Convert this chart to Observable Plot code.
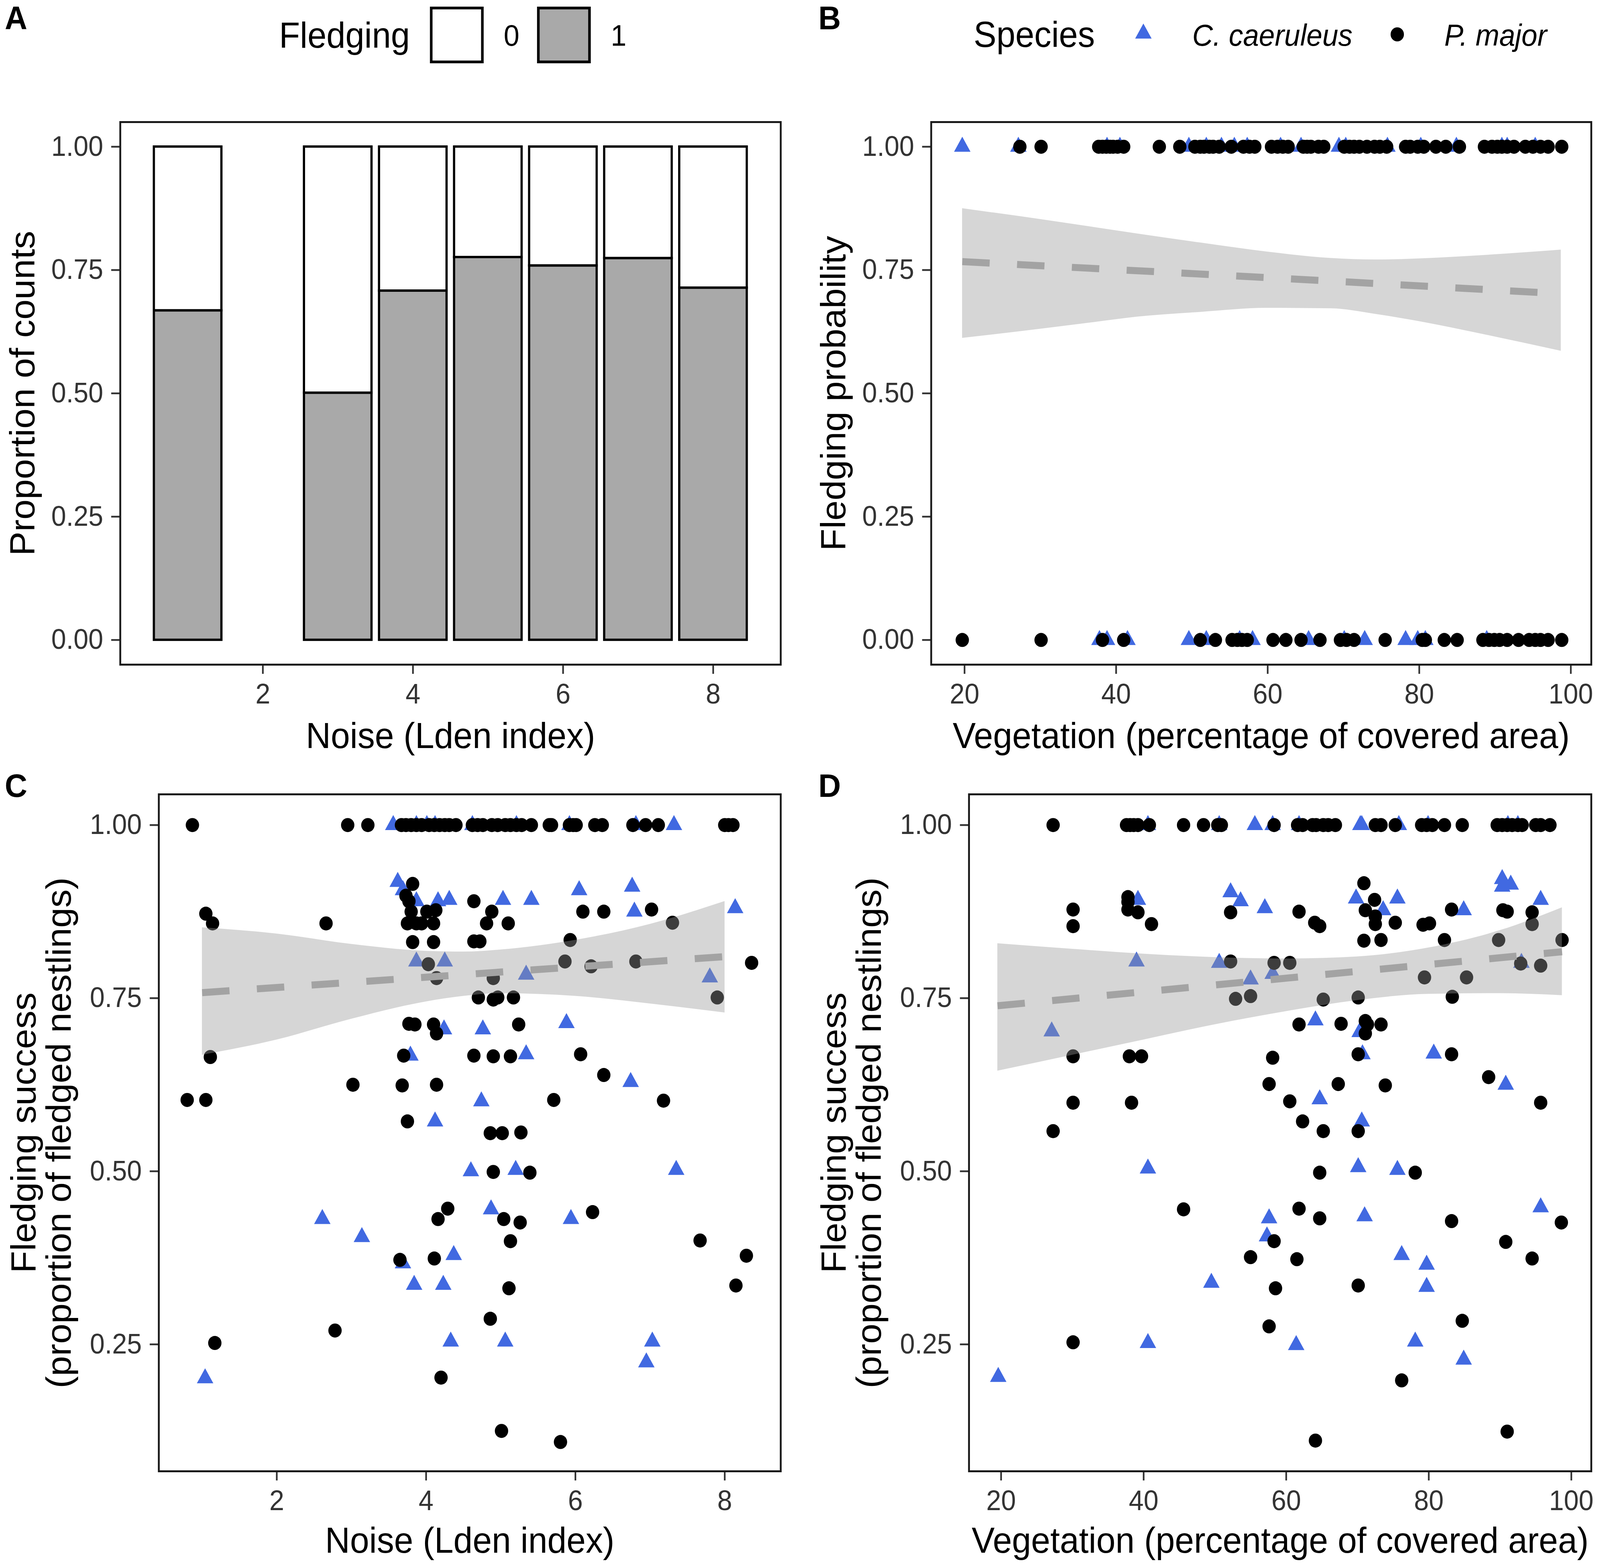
<!DOCTYPE html>
<html>
<head>
<meta charset="utf-8">
<script src="https://cdn.jsdelivr.net/npm/d3@7"></script>
<script src="https://cdn.jsdelivr.net/npm/@observablehq/plot@0.6"></script>
<style>
  html, body { margin: 0; padding: 0; background: #fff; overflow: hidden; }
  #root { position: relative; width: 4317px; height: 4009px; overflow: hidden; background: #fff;
          transform-origin: 0 0;
          font-family: "Liberation Sans", Arial, Helvetica, sans-serif; }
  .panel { position: absolute; }
  .panel svg { overflow: visible; }
  #overlay { position: absolute; left: 0; top: 0; pointer-events: none; }
</style>
</head>
<body>
<div id="root"></div>
<script>
// ---------------- DATA ----------------
// Panel A: proportion of fledging (1) per noise level
const noiseLevels = [1, 3, 4, 5, 6, 7, 8];
const propFledged = [0.668, 0.501, 0.708, 0.776, 0.759, 0.774, 0.714];
const fledgingLabels = ["0", "1"];
const speciesLabels = ["C. caeruleus", "P. major"];

// Panel B: fledging (0/1) vs vegetation
const vegFledgedMajor = [27.3,30.1,37.7,38.2,38.7,39.2,39.6,40.2,41.0,45.7,48.4,50.4,51.1,51.6,52.3,52.8,53.6,55.2,56.8,57.6,58.3,60.5,61.3,62.0,62.7,64.7,65.2,65.7,66.7,67.4,70.1,70.8,71.4,72.1,73.1,74.1,74.8,75.7,78.2,78.8,79.8,80.6,82.2,83.5,85.3,88.6,89.6,90.3,90.9,91.6,92.5,94.0,95.0,96.0,97.0,98.8];
const vegFledgedCaer = [19.7,27.1,38.8,40.5,49.6,51.9,53.9,55.6,57.3,61.7,64.4,69.4,70.3,75.8,80.2,84.9,90.9,91.6,95.3];
const vegFailedMajor = [19.7,30.1,38.2,41.0,51.1,53.1,55.3,56.0,56.6,57.3,60.7,62.4,64.4,66.9,69.6,70.4,71.4,75.5,80.4,80.8,83.3,85.0,88.4,89.2,89.9,90.6,91.6,93.1,94.5,95.3,96.0,97.0,98.8];
const vegFailedCaer = [37.8,38.8,41.5,49.6,51.9,56.3,58.0,65.4,70.1,72.8,78.2,79.8,80.8,88.9];
const bandBX  = [19.7, 31.3, 37.0, 42.7, 51.3, 59.9, 68.4, 74.1, 82.7, 88.4, 98.7];
const bandBHi = [0.875,0.850,0.837,0.824,0.805,0.787,0.774,0.771,0.775,0.780,0.791];
const bandBLo = [0.612,0.633,0.644,0.655,0.665,0.673,0.672,0.661,0.638,0.620,0.586];
const fitBX = [19.7, 58.3, 98.7];
const fitBY = [0.767, 0.736, 0.702];

// Panel C: fledging success vs noise (jittered noise)
const noiseTopMajor = [0.87,2.95,3.22,3.67,3.73,3.80,3.87,3.94,4.04,4.11,4.18,4.25,4.31,4.40,4.62,4.69,4.76,4.88,4.96,5.06,5.13,5.21,5.28,5.41,5.65,5.68,5.92,5.97,6.01,6.26,6.36,6.77,6.94,7.11,8.00,8.05,8.11];
const noiseTopCaer = [3.56,3.87,4.01,4.12,4.62,5.21,5.92,6.81,7.32];
const noiseMajor = [[0.80,0.603],[1.05,0.603],[1.05,0.872],[1.14,0.858],[1.11,0.665],[1.17,0.252],[2.66,0.858],[3.02,0.625],[2.78,0.270],[3.82,0.915],[3.73,0.898],[3.77,0.890],[3.80,0.875],[3.75,0.858],[3.87,0.858],[3.94,0.858],[4.10,0.858],[4.01,0.875],[4.13,0.877],[3.82,0.831],[4.10,0.831],[4.03,0.799],[4.14,0.779],[4.64,0.890],[4.64,0.832],[4.72,0.832],[4.81,0.858],[4.88,0.875],[5.10,0.858],[4.90,0.779],[4.70,0.751],[4.90,0.748],[4.96,0.751],[5.17,0.751],[5.24,0.712],[3.77,0.713],[3.85,0.712],[4.10,0.712],[4.14,0.699],[3.70,0.667],[4.64,0.667],[4.90,0.666],[5.13,0.666],[3.68,0.624],[4.14,0.625],[3.75,0.572],[4.86,0.555],[5.02,0.555],[5.27,0.556],[4.90,0.499],[5.39,0.498],[4.29,0.446],[4.16,0.431],[5.04,0.431],[5.26,0.426],[5.13,0.399],[3.65,0.372],[4.11,0.374],[5.11,0.331],[4.86,0.287],[4.20,0.202],[5.01,0.125],[5.80,0.109],[5.71,0.603],[5.93,0.834],[5.86,0.803],[6.10,0.875],[6.38,0.875],[6.21,0.796],[6.07,0.669],[6.38,0.639],[6.23,0.441],[6.81,0.803],[7.02,0.878],[7.30,0.859],[7.18,0.602],[7.67,0.400],[7.90,0.751],[8.36,0.801],[8.29,0.378],[8.15,0.335]];
const noiseCaer = [[3.62,0.918],[3.69,0.906],[3.87,0.890],[4.16,0.890],[4.31,0.892],[5.03,0.892],[5.41,0.892],[6.05,0.906],[6.76,0.911],[6.79,0.875],[8.14,0.880],[3.87,0.803],[4.25,0.803],[5.34,0.784],[7.80,0.780],[4.24,0.705],[4.76,0.705],[5.88,0.714],[3.79,0.667],[5.34,0.669],[6.74,0.629],[4.74,0.601],[4.12,0.572],[4.60,0.500],[5.20,0.502],[7.35,0.502],[4.87,0.445],[2.61,0.431],[5.94,0.431],[3.14,0.405],[4.37,0.379],[3.69,0.367],[3.84,0.336],[4.23,0.336],[4.33,0.254],[5.06,0.254],[7.03,0.254],[6.95,0.224],[1.04,0.201]];
const bandCX  = [1.0, 2, 3, 4, 4.5, 5, 6, 7, 8.0];
const bandCHi = [0.852,0.843,0.828,0.818,0.817,0.820,0.834,0.857,0.890];
const bandCLo = [0.668,0.690,0.720,0.745,0.753,0.757,0.753,0.742,0.729];
const fitCX = [1.0, 8.0];
const fitCY = [0.758, 0.810];

// Panel D: fledging success vs vegetation
const vegTopMajor = [27.3,37.6,38.1,38.6,39.2,40.8,45.6,48.4,50.4,50.9,58.3,61.6,62.3,63.7,64.2,65.2,65.9,66.9,72.5,73.3,75.3,79.0,79.7,80.5,82.2,84.7,89.6,90.3,91.0,91.7,92.5,93.1,95.0,95.7,97.0];
const vegTopCaer = [40.6,50.6,55.6,58.1,61.8,70.4,70.6,75.8,79.9,91.1,92.5];
const vegMajor = [[27.3,0.558],[30.1,0.878],[30.1,0.854],[30.1,0.666],[30.1,0.599],[30.1,0.253],[37.8,0.896],[37.8,0.889],[37.8,0.878],[39.2,0.874],[41.1,0.857],[38.0,0.666],[39.7,0.666],[38.3,0.599],[45.6,0.445],[52.2,0.803],[52.2,0.874],[52.9,0.749],[55.0,0.753],[55.0,0.376],[57.6,0.626],[58.1,0.664],[58.3,0.801],[58.3,0.399],[58.5,0.331],[57.6,0.276],[60.5,0.801],[60.5,0.601],[61.8,0.875],[61.8,0.712],[61.8,0.446],[61.5,0.373],[62.3,0.572],[64.0,0.859],[64.7,0.854],[65.2,0.748],[64.7,0.498],[64.7,0.432],[65.2,0.558],[64.1,0.111],[67.3,0.626],[67.7,0.713],[70.1,0.751],[70.1,0.669],[70.1,0.558],[70.1,0.335],[70.9,0.833],[70.9,0.916],[71.1,0.877],[71.1,0.717],[71.1,0.699],[71.4,0.712],[72.4,0.892],[72.5,0.868],[72.5,0.857],[73.3,0.834],[73.3,0.712],[73.9,0.624],[75.3,0.859],[76.2,0.198],[78.1,0.498],[79.4,0.780],[79.2,0.856],[80.1,0.858],[82.2,0.834],[83.2,0.878],[83.3,0.752],[83.2,0.669],[83.2,0.428],[84.7,0.284],[85.3,0.780],[88.4,0.636],[89.8,0.834],[90.4,0.877],[91.0,0.875],[90.8,0.398],[91.0,0.124],[92.9,0.800],[94.5,0.874],[94.5,0.857],[94.5,0.374],[95.7,0.797],[95.7,0.599],[98.7,0.834],[98.6,0.426]];
const vegCaer = [[27.1,0.702],[19.6,0.203],[39.2,0.892],[39.0,0.803],[40.6,0.504],[40.6,0.252],[49.5,0.339],[50.6,0.801],[52.2,0.903],[53.6,0.890],[57.0,0.880],[55.0,0.777],[58.1,0.785],[57.6,0.432],[57.3,0.406],[61.4,0.249],[64.1,0.718],[64.7,0.604],[69.8,0.894],[70.3,0.701],[70.7,0.669],[70.6,0.572],[70.1,0.506],[71.0,0.435],[73.6,0.877],[75.6,0.894],[75.6,0.502],[76.2,0.379],[78.1,0.254],[79.7,0.365],[79.7,0.333],[80.7,0.670],[84.9,0.877],[84.9,0.228],[90.3,0.922],[90.3,0.911],[91.5,0.914],[90.8,0.625],[93.0,0.801],[95.7,0.892],[95.7,0.448]];
const bandDX  = [19.5, 30, 40, 50, 60, 70, 80, 90, 98.7];
const bandDHi = [0.829,0.821,0.814,0.809,0.807,0.810,0.823,0.848,0.881];
const bandDLo = [0.645,0.668,0.690,0.712,0.731,0.747,0.756,0.757,0.754];
const fitDX = [19.5, 98.7];
const fitDY = [0.739, 0.817];

// Tick values
const ticksProp = [0, 0.25, 0.5, 0.75, 1];
const ticksSuccess = [0.25, 0.5, 0.75, 1];
const ticksNoise = [2, 4, 6, 8];
const ticksVeg = [20, 40, 60, 80, 100];

// ---------------- STYLE ----------------
const FONT = '"Liberation Sans", Arial, Helvetica, sans-serif';
const BLUE = "#4169e1";
const BAR_GREY = "#a9a9a9";
const TICK_FS = 72, TITLE_FS = 93;
const PAGE_W = 4317, PAGE_H = 4009;

const root = document.getElementById("root");

// fit the page to the actual viewport if it is smaller than the requested size
(function fit() {
  const vw = window.innerWidth || PAGE_W, vh = window.innerHeight || PAGE_H;
  const sx = Math.min(1, vw / PAGE_W), sy = Math.min(1, vh / PAGE_H);
  if (sx < 0.999 || sy < 0.999) root.style.transform = `scale(${sx}, ${sy})`;
})();

function zip(xs, ys) { return xs.map((x, i) => ({x, y: ys[i]})); }
function bandRows(xs, lo, hi) { return xs.map((x, i) => ({x, lo: lo[i], hi: hi[i]})); }
function pairs(arr) { return arr.map(([x, y]) => ({x, y})); }
function flat(xs, y) { return xs.map(x => ({x, y})); }

function axes(xTicks, yTicks, xLabel, yLabel, xTitleDy, yTitleDx) {
  return [
    Plot.axisX({ticks: xTicks, tickSize: 24, tickPadding: 24, fontSize: TICK_FS, color: "#333", strokeWidth: 4.5, label: null}),
    Plot.axisY({ticks: yTicks, tickSize: 24, tickPadding: 22, fontSize: TICK_FS, color: "#333", strokeWidth: 4.5, label: null, tickFormat: d3.format(".2f")}),
    Plot.frame({stroke: "#1a1a1a", strokeWidth: 5}),
    Plot.text([xLabel], {text: d => d, frameAnchor: "bottom", textAnchor: "middle", dy: xTitleDy, lineAnchor: "bottom", fontSize: TITLE_FS, fill: "#000"}),
    Plot.text([yLabel], {text: d => d, frameAnchor: "left", textAnchor: "middle", dx: yTitleDx, rotate: -90, lineAnchor: "bottom", lineHeight: 1.02, fontSize: TITLE_FS, fill: "#000"})
  ];
}

function place(svg, left, top) {
  const div = document.createElement("div");
  div.className = "panel";
  div.style.left = left + "px";
  div.style.top = top + "px";
  div.appendChild(svg);
  root.appendChild(div);
}

const baseStyle = {fontFamily: FONT, background: "transparent", overflow: "visible", color: "#000"};

// ---------------- PANEL A ----------------
const barRows = noiseLevels.map((n, i) => ({noise: n, p: propFledged[i]}));
const panelA = Plot.plot({
  width: 2160, height: 1990,
  marginLeft: 324, marginRight: 54, marginTop: 312, marginBottom: 289,
  style: baseStyle,
  x: {domain: [0.1, 8.9]},
  y: {domain: [-0.05, 1.05]},
  marks: [
    Plot.rect(barRows, {x1: d => d.noise - 0.45, x2: d => d.noise + 0.45, y1: 0, y2: "p", fill: BAR_GREY, stroke: "#000", strokeWidth: 6}),
    Plot.rect(barRows, {x1: d => d.noise - 0.45, x2: d => d.noise + 0.45, y1: "p", y2: 1, fill: "#fff", stroke: "#000", strokeWidth: 6}),
    ...axes(ticksNoise, ticksProp, "Noise (Lden index)", "Proportion of counts", 213, -232)
  ]
});
place(panelA, 0, 0);

// ---------------- SCATTER PANELS ----------------
function scatter({width, height, mL, mR, mT, mB, xDomain, yDomain, caer, major, band, fit, xTicks, yTicks, xLabel, yLabel, xTitleDy, yTitleDx}) {
  return Plot.plot({
    width, height, marginLeft: mL, marginRight: mR, marginTop: mT, marginBottom: mB,
    style: baseStyle,
    x: {domain: xDomain},
    y: {domain: yDomain},
    marks: [
      Plot.dot(caer, {x: "x", y: "y", symbol: "triangle", r: 16.5, fill: BLUE, stroke: "none"}),
      Plot.dot(major, {x: "x", y: "y", symbol: "circle", r: 18, fill: "#000", stroke: "none"}),
      Plot.areaY(band, {x: "x", y1: "lo", y2: "hi", fill: "#999999", fillOpacity: 0.4, curve: "monotone-x"}),
      Plot.line(fit, {x: "x", y: "y", stroke: "#a3a3a3", strokeWidth: 18, strokeDasharray: "74,74", strokeLinecap: "butt", curve: "monotone-x"}),
      ...axes(xTicks, yTicks, xLabel, yLabel, xTitleDy, yTitleDx)
    ]
  });
}

const panelB = scatter({
  width: 2157, height: 1990, mL: 352, mR: 24, mT: 312, mB: 289,
  xDomain: [15.6, 102.7], yDomain: [-0.05, 1.05],
  caer: [...flat(vegFledgedCaer, 1), ...flat(vegFailedCaer, 0)],
  major: [...flat(vegFledgedMajor, 1), ...flat(vegFailedMajor, 0)],
  band: bandRows(bandBX, bandBLo, bandBHi), fit: zip(fitBX, fitBY),
  xTicks: ticksVeg, yTicks: ticksProp,
  xLabel: "Vegetation (percentage of covered area)", yLabel: "Fledging probability",
  xTitleDy: 213, yTitleDx: -232
});
place(panelB, 2160, 0);

const panelC = scatter({
  width: 2160, height: 2019, mL: 428, mR: 54, mT: 43, mB: 243,
  xDomain: [0.42, 8.75], yDomain: [0.0667, 1.0444],
  caer: [...flat(noiseTopCaer, 1), ...pairs(noiseCaer)],
  major: [...flat(noiseTopMajor, 1), ...pairs(noiseMajor)],
  band: bandRows(bandCX, bandCLo, bandCHi), fit: zip(fitCX, fitCY),
  xTicks: ticksNoise, yTicks: ticksSuccess,
  xLabel: "Noise (Lden index)", yLabel: "Fledging success\n(proportion of fledged nestlings)",
  xTitleDy: 208, yTitleDx: -238
});
place(panelC, 0, 1990);

const panelD = scatter({
  width: 2157, height: 2019, mL: 454, mR: 24, mT: 43, mB: 243,
  xDomain: [15.5, 102.8], yDomain: [0.0667, 1.0444],
  caer: [...flat(vegTopCaer, 1), ...pairs(vegCaer)],
  major: [...flat(vegTopMajor, 1), ...pairs(vegMajor)],
  band: bandRows(bandDX, bandDLo, bandDHi), fit: zip(fitDX, fitDY),
  xTicks: ticksVeg, yTicks: ticksSuccess,
  xLabel: "Vegetation (percentage of covered area)", yLabel: "Fledging success\n(proportion of fledged nestlings)",
  xTitleDy: 208, yTitleDx: -238
});
place(panelD, 2160, 1990);

// ---------------- LEGENDS & PANEL TAGS ----------------
const NS = "http://www.w3.org/2000/svg";
const ov = document.createElementNS(NS, "svg");
ov.setAttribute("id", "overlay");
ov.setAttribute("width", PAGE_W);
ov.setAttribute("height", PAGE_H);
ov.style.fontFamily = FONT;
function el(tag, attrs, text) {
  const e = document.createElementNS(NS, tag);
  for (const k in attrs) e.setAttribute(k, attrs[k]);
  if (text != null) e.textContent = text;
  ov.appendChild(e);
  return e;
}
// panel tags
[["A", 13, 75], ["B", 2208, 75], ["C", 13, 2040], ["D", 2208, 2040]].forEach(([t, x, y]) =>
  el("text", {x, y, "font-size": 84, "font-weight": "bold", fill: "#000"}, t));

// Fledging legend
el("text", {x: 753, y: 122, "font-size": 92, fill: "#000"}, "Fledging");
el("rect", {x: 1163.5, y: 20.5, width: 138, height: 138, fill: "#fff", stroke: "#000", "stroke-width": 7});
el("text", {x: 1359, y: 117, "font-size": 76, fill: "#000"}, fledgingLabels[0]);
el("rect", {x: 1452.5, y: 20.5, width: 138, height: 138, fill: BAR_GREY, stroke: "#000", "stroke-width": 7});
el("text", {x: 1648, y: 117, "font-size": 76, fill: "#000"}, fledgingLabels[1]);

// Species legend
el("text", {x: 2627, y: 120, "font-size": 92, fill: "#000"}, "Species");
el("path", {d: d3.symbol(d3.symbolTriangle, Math.PI * 16.5 * 16.5)(), transform: "translate(3085,86)", fill: BLUE});
el("text", {x: 3217, y: 117, "font-size": 77, "font-style": "italic", fill: "#000"}, speciesLabels[0]);
el("circle", {cx: 3770, cy: 88, r: 18, fill: "#000"});
el("text", {x: 3897, y: 117, "font-size": 77, "font-style": "italic", fill: "#000"}, speciesLabels[1]);
root.appendChild(ov);
</script>
</body>
</html>
